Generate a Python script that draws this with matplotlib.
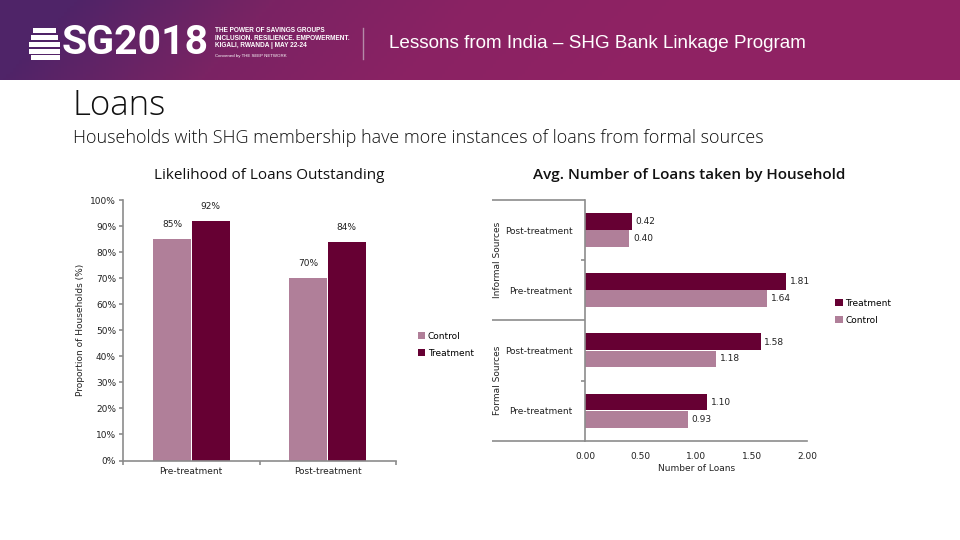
import numpy as np
import matplotlib
matplotlib.use("Agg")
import matplotlib.pyplot as plt
from matplotlib.colors import LinearSegmentedColormap
from matplotlib.patches import Rectangle

W, H = 960, 540
TREAT = "#660033"
CTRL = "#b07f99"
AXIS = "#8c8c8c"
LABEL_FONT = "DejaVu Sans"

# left chart
periods = ["Pre-treatment", "Post-treatment"]
likely_control = [85, 70]
likely_treatment = [92, 84]
pct_ticks = [0, 10, 20, 30, 40, 50, 60, 70, 80, 90, 100]

# right chart, bottom to top
loan_labels = ["Pre-treatment", "Post-treatment", "Pre-treatment", "Post-treatment"]
loans_control = [0.93, 1.18, 1.64, 0.40]
loans_treatment = [1.10, 1.58, 1.81, 0.42]
source_groups = ["Formal Sources", "Informal Sources"]
loan_ticks = [0.0, 0.5, 1.0, 1.5, 2.0]


def px_axes(fig, x0, y0, x1, y1):
    # pixel box (top-left origin) to figure axes
    return fig.add_axes([x0 / W, 1 - y1 / H, (x1 - x0) / W, (y1 - y0) / H])


fig = plt.figure(figsize=(W / 100, H / 100), dpi=100, facecolor="white")

# header banner
bg = fig.add_axes([0, 0, 1, 1])
bg.set_xlim(0, W)
bg.set_ylim(H, 0)
bg.axis("off")
cmap = LinearSegmentedColormap.from_list("banner", ["#4f2468", "#7a2363", "#8a2263", "#8f2263"])
xx, yy = np.meshgrid(np.linspace(0, 1, 300), np.linspace(0, 1, 40))
bg.imshow(np.clip(xx * 1.6 - (1 - yy) * 0.12, 0, 1), cmap=cmap, extent=(0, W, 80, 0), aspect="auto", vmin=0, vmax=1)
bg.set_xlim(0, W)
bg.set_ylim(H, 0)

for y, x0, x1 in [(28, 33, 56), (35, 31, 58), (42, 29, 60), (49, 29, 60), (55, 31, 60)]:
    bg.add_patch(Rectangle((x0, y), x1 - x0, 4.5, color="white", lw=0))
bg.text(62, 43.5, "SG2018", color="white", fontsize=29.5, fontweight="bold",
        family="Roboto", va="center", ha="left")
tagline = ["THE POWER OF SAVINGS GROUPS", "INCLUSION. RESILIENCE. EMPOWERMENT.",
           "KIGALI, RWANDA | MAY 22-24"]
for y, line in zip([31, 38, 45.5], tagline):
    bg.text(215, y, line, color="white", fontsize=4.7, fontweight="bold",
            family="Liberation Sans", va="center")
bg.text(215, 55.5, "Convened by THE SEEP NETWORK", color="white", fontsize=3.2,
        family="Liberation Sans", va="center")
bg.plot([363, 363], [28, 59], color="#b58aa8", lw=1)
bg.text(389, 44, "Lessons from India \u2013 SHG Bank Linkage Program", color="white",
        fontsize=13.6, family="Liberation Sans", va="center")

bg.text(73, 106, "Loans", fontsize=25, family="Open Sans", fontweight="light", va="center", color="#111111")
bg.text(73, 138, "Households with SHG membership have more instances of loans from formal sources",
        fontsize=13, family="Open Sans", fontweight="light", va="center", color="#111111")
bg.text(269.5, 175.5, "Likelihood of Loans Outstanding", fontsize=11, family="Open Sans",
        fontweight="medium", ha="center", va="center", color="#111111")
bg.text(689.5, 175.5, "Avg. Number of Loans taken by Household", fontsize=11, family="Open Sans",
        fontweight="semibold", ha="center", va="center", color="#111111")

# left chart
ax = px_axes(fig, 123, 200, 396, 460.5)
ax.patch.set_alpha(0)
pos = np.arange(len(periods)) + 0.5
bar_w = 0.28
ax.bar(pos - bar_w / 2 - 0.002, likely_control, bar_w, color=CTRL, label="Control")
ax.bar(pos + bar_w / 2 + 0.002, likely_treatment, bar_w, color=TREAT, label="Treatment")
for x, v in zip(pos - bar_w / 2, likely_control):
    ax.annotate(f"{v}%", (x, v), xytext=(0, 7), textcoords="offset points", ha="center",
                va="bottom", fontsize=6.5, family=LABEL_FONT, color="#222222")
for x, v in zip(pos + bar_w / 2, likely_treatment):
    ax.annotate(f"{v}%", (x, v), xytext=(0, 7), textcoords="offset points", ha="center",
                va="bottom", fontsize=6.5, family=LABEL_FONT, color="#222222")
ax.set_xlim(0, 2)
ax.set_ylim(0, 100)
ax.set_xticks([0, 1, 2])
ax.set_xticklabels([])
ax.set_xticks(pos, minor=True)
ax.set_xticklabels(periods, minor=True, fontsize=6.5, family=LABEL_FONT, color="#222222")
ax.tick_params(axis="x", which="minor", length=0, pad=5)
ax.tick_params(axis="x", which="major", length=3, color=AXIS, width=1.2)
ax.set_yticks(pct_ticks)
ax.set_yticklabels([f"{t}%" for t in pct_ticks], fontsize=6.5, family=LABEL_FONT, color="#222222")
ax.tick_params(axis="y", length=3, color=AXIS, width=1.2, pad=2)
ax.set_ylabel("Proportion of Households (%)", fontsize=6.5, family=LABEL_FONT, color="#222222", labelpad=4)
for s in ["top", "right"]:
    ax.spines[s].set_visible(False)
for s in ["left", "bottom"]:
    ax.spines[s].set_color(AXIS)
    ax.spines[s].set_linewidth(1.2)
ax.legend(loc="center left", bbox_to_anchor=(1.05, 0.445), frameon=False, handlelength=0.8,
          handleheight=0.8, handletextpad=0.3, labelspacing=0.9,
          prop={"size": 6.5, "family": LABEL_FONT})

# right chart
ax2 = px_axes(fig, 585, 200, 807.3, 440.7)
ax2.patch.set_alpha(0)
ypos = np.arange(len(loan_labels)) + 0.5
ax2.barh(ypos + bar_w / 2 + 0.002, loans_treatment, bar_w, color=TREAT, label="Treatment")
ax2.barh(ypos - bar_w / 2 - 0.002, loans_control, bar_w, color=CTRL, label="Control")
for y, v in zip(ypos + bar_w / 2, loans_treatment):
    ax2.annotate(f"{v:.2f}", (v, y), xytext=(2.5, 0), textcoords="offset points", va="center",
                 fontsize=6.5, family=LABEL_FONT, color="#222222")
for y, v in zip(ypos - bar_w / 2, loans_control):
    ax2.annotate(f"{v:.2f}", (v, y), xytext=(2.5, 0), textcoords="offset points", va="center",
                 fontsize=6.5, family=LABEL_FONT, color="#222222")
ax2.set_xlim(0, 2)
ax2.set_ylim(0, 4)
ax2.set_xticks(loan_ticks)
ax2.set_xticklabels([f"{t:.2f}" for t in loan_ticks], fontsize=6.5, family=LABEL_FONT, color="#222222")
ax2.tick_params(axis="x", length=0, pad=8)
ax2.set_xlabel("Number of Loans", fontsize=6.5, family=LABEL_FONT, color="#222222", labelpad=2)
ax2.set_yticks(ypos)
ax2.set_yticklabels(loan_labels, fontsize=6.5, family=LABEL_FONT, color="#222222")
ax2.tick_params(axis="y", length=0, pad=9)
ax2.set_yticks([1, 3], minor=True)
ax2.tick_params(axis="y", which="minor", length=3, color=AXIS, width=1.2)
for s in ["top", "right"]:
    ax2.spines[s].set_visible(False)
for s in ["left", "bottom"]:
    ax2.spines[s].set_color(AXIS)
    ax2.spines[s].set_linewidth(1.2)
# group separators run out past the category labels
for y in [0, 2, 4]:
    ax2.plot([-0.839, 0], [y, y], color=AXIS, lw=1.2, clip_on=False, solid_capstyle="butt")
for y, name in zip([1, 3], source_groups):
    ax2.text(-0.79, y, name, rotation=90, ha="center", va="center", fontsize=6.5,
             family=LABEL_FONT, color="#222222")
ax2.legend(loc="center left", bbox_to_anchor=(1.09, 0.535), frameon=False, handlelength=0.8,
           handleheight=0.8, handletextpad=0.3, labelspacing=0.9,
           prop={"size": 6.5, "family": LABEL_FONT})

fig.savefig("out.png", dpi=100)
